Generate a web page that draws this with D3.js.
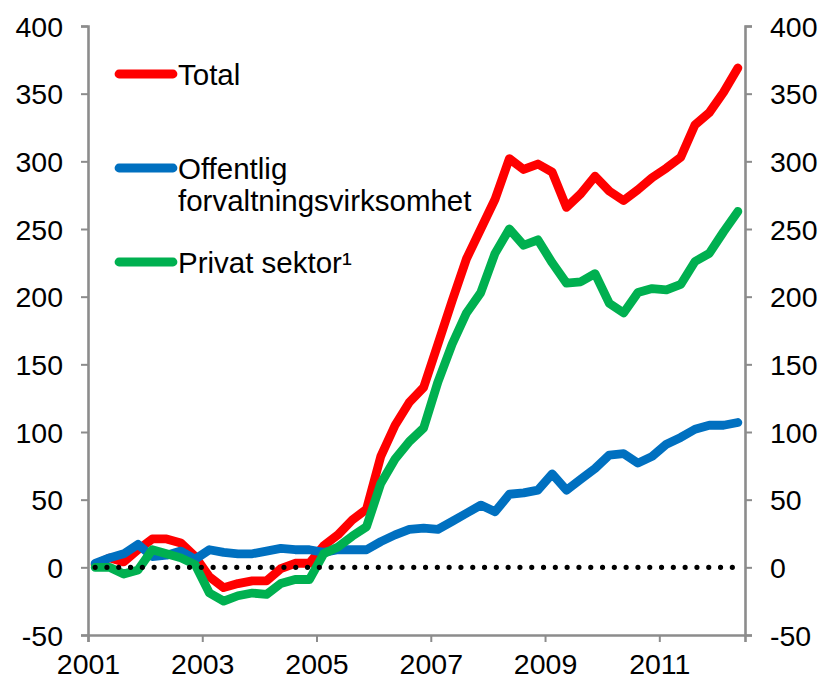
<!DOCTYPE html>
<html>
<head>
<meta charset="utf-8">
<script src="https://cdn.jsdelivr.net/npm/d3@7"></script>
<style>
  html, body { margin: 0; padding: 0; background: #fff; }
  svg { display: block; }
  text { font-family: "Liberation Sans", Arial, sans-serif; fill: #000; }
</style>
</head>
<body>
<svg id="chart" width="819" height="681"></svg>
<script>
const quarters = [
  "2001K1","2001K2","2001K3","2001K4","2002K1","2002K2","2002K3","2002K4",
  "2003K1","2003K2","2003K3","2003K4","2004K1","2004K2","2004K3","2004K4",
  "2005K1","2005K2","2005K3","2005K4","2006K1","2006K2","2006K3","2006K4",
  "2007K1","2007K2","2007K3","2007K4","2008K1","2008K2","2008K3","2008K4",
  "2009K1","2009K2","2009K3","2009K4","2010K1","2010K2","2010K3","2010K4",
  "2011K1","2011K2","2011K3","2011K4","2012K1","2012K2"
];
const total = [2, 7, 4, 13, 21, 21, 18, 8, -7, -15, -12, -10, -10, -1, 3, 3,
  16, 24, 35, 43, 82, 105, 122, 133, 165, 197, 228, 250, 272, 302, 294, 298,
  292, 266, 276, 289, 278, 271, 279, 288, 295, 303, 327, 336, 351, 369];
const offentlig = [3, 7, 10, 17, 8, 9, 12, 6, 13, 11, 10, 10, 12, 14, 13, 13,
  11, 13, 13, 13, 19, 24, 28, 29, 28, 34, 40, 46, 41, 54, 55, 57,
  69, 57, 65, 73, 83, 84, 77, 82, 91, 96, 102, 105, 105, 107];
const privat = [0, 0, -5, -2, 13, 10, 7, 2, -19, -25, -21, -19, -20, -12, -9, -9,
  10, 15, 23, 30, 62, 80, 93, 103, 137, 165, 188, 203, 232, 250, 238, 242,
  225, 210, 211, 217, 195, 188, 203, 206, 205, 209, 226, 232, 248, 263];
const zeroLine = quarters.map(() => 0);

const seriesNames = ["Total", "Offentlig forvaltningsvirksomhet", "Privat sektor¹"];
const seriesColors = ["#ff0000", "#0070c0", "#00b050"];
const yTicks = [-50, 0, 50, 100, 150, 200, 250, 300, 350, 400];
const xTickYears = [2001, 2003, 2005, 2007, 2009, 2011];

(function () {
const svg = d3.select("#chart");
const mLeft = 88, mRight = 745, mTop = 26, mBottom = 635;

const x = d3.scaleLinear().domain([2001, 2012.5]).range([mLeft, mRight]);
const y = d3.scaleLinear().domain([-50, 400]).range([mBottom, mTop]);

const qx = (q) => {
  const yr = +q.slice(0, 4), k = +q.slice(5);
  return x(yr + (k - 0.5) / 4);
};

const axisColor = "#8c8c8c";
const fs = 28.5;
const fmt = d => String(d);

const gl = svg.append("g").attr("transform", `translate(${mLeft},0)`)
  .call(d3.axisLeft(y).tickValues(yTicks).tickSize(7).tickPadding(18).tickFormat(fmt));
const gr = svg.append("g").attr("transform", `translate(${mRight},0)`)
  .call(d3.axisRight(y).tickValues(yTicks).tickSize(7).tickPadding(18).tickFormat(fmt));
const gb = svg.append("g").attr("transform", `translate(0,${mBottom})`)
  .call(d3.axisBottom(x).tickValues(xTickYears).tickSize(7).tickPadding(10).tickFormat(fmt));

[gl, gr, gb].forEach(g => {
  g.select(".domain").attr("stroke", axisColor).attr("stroke-width", 2.6);
  g.selectAll(".tick line").attr("stroke", axisColor).attr("stroke-width", 2);
  g.selectAll(".tick text").attr("font-size", fs).attr("fill", "#000")
    .attr("font-family", "'Liberation Sans', Arial, sans-serif");
});
gl.selectAll(".tick text").attr("dy", "0.36em");
gr.selectAll(".tick text").attr("dy", "0.36em");
gb.selectAll(".tick text").attr("dy", "0.78em");

const line = d3.line().x((d, i) => qx(quarters[i])).y(d => y(d));

const allSeries = [total, offentlig, privat];
allSeries.forEach((s, idx) => {
  svg.append("path").datum(s)
    .attr("d", line)
    .attr("fill", "none")
    .attr("stroke", seriesColors[idx])
    .attr("stroke-width", 8.8)
    .attr("stroke-linejoin", "round")
    .attr("stroke-linecap", "round");
});

svg.append("path").datum(zeroLine)
  .attr("d", line)
  .attr("fill", "none")
  .attr("stroke", "#000")
  .attr("stroke-width", 5.2)
  .attr("stroke-linecap", "round")
  .attr("stroke-dasharray", "0 11.8");

const legendY = [74, 168, 262];
const legendText = [["Total"], ["Offentlig", "forvaltningsvirksomhet"], ["Privat sektor¹"]];
legendY.forEach((ly, i) => {
  svg.append("line")
    .attr("x1", 119).attr("x2", 173).attr("y1", ly).attr("y2", ly)
    .attr("stroke", seriesColors[i]).attr("stroke-width", 8.8)
    .attr("stroke-linecap", "round");
  const t = svg.append("text").attr("x", 178).attr("y", ly + 10.5).attr("font-size", 29.5);
  legendText[i].forEach((s, j) => {
    t.append("tspan").attr("x", 178).attr("dy", j === 0 ? 0 : 32).text(s);
  });
});
})();
</script>
</body>
</html>
